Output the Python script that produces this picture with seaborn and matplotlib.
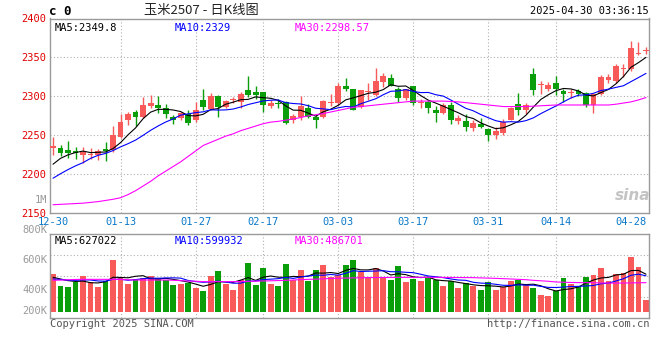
import numpy as np
import pandas as pd
import matplotlib
matplotlib.use('Agg')
import matplotlib.pyplot as plt
import seaborn as sns

sns.set_style('white')
plt.rcParams['font.family'] = ['DejaVu Sans Mono', 'Noto Sans CJK SC']
plt.rcParams['font.size'] = 7

# ---- data ----
tick_idx = [0, 9, 19, 28, 38, 48, 58, 67, 77]
tick_labels = ['12-30', '01-13', '01-27', '02-17', '03-03', '03-17', '03-31', '04-14', '04-28']

opens = [2234, 2234, 2231, 2230, 2225, 2225, 2225, 2233, 2231, 2248,
         2270, 2280, 2274, 2288, 2289, 2285, 2273, 2272, 2277, 2270,
         2295, 2284, 2300, 2287, 2295, 2293, 2308, 2306, 2306, 2288,
         2292, 2293, 2270, 2274, 2285, 2273, 2273, 2291, 2292, 2314,
         2309, 2287, 2306, 2302, 2319, 2323, 2310, 2298, 2313, 2291,
         2293, 2282, 2279, 2289, 2268, 2268, 2260, 2264, 2258, 2250,
         2253, 2270, 2290, 2282, 2329, 2315, 2309, 2317, 2307, 2304,
         2307, 2305, 2289, 2303, 2321, 2320, 2335, 2335, 2354, 2358]
closes = [2236, 2228, 2228, 2228, 2229, 2226.5, 2230, 2230, 2250, 2267,
          2277, 2274, 2289, 2292, 2285, 2277, 2270, 2279, 2266, 2283,
          2287, 2300, 2286, 2294, 2296, 2303, 2302, 2302, 2289, 2292,
          2290, 2266, 2275, 2288, 2274, 2270, 2294, 2292, 2313, 2309,
          2283, 2308, 2307, 2320, 2326, 2314, 2298, 2309, 2291, 2293,
          2285, 2279, 2289, 2270, 2272, 2261, 2266, 2261, 2250, 2255,
          2267, 2285, 2283, 2289, 2308, 2316, 2315, 2309, 2303, 2305,
          2303, 2289, 2303, 2325, 2325, 2339, 2336, 2362, 2355, 2358.5]
highs = [2248, 2237.5, 2243, 2235, 2235, 2234, 2233, 2241, 2262, 2278,
         2280, 2282, 2299, 2302, 2300, 2290, 2276, 2280, 2282, 2293,
         2310, 2304, 2302, 2295, 2299.5, 2306, 2326, 2313, 2306, 2296,
         2297, 2294, 2278, 2300, 2290, 2276, 2296, 2303, 2317, 2324,
         2310, 2308, 2317, 2336, 2330, 2329, 2312, 2310, 2314, 2297,
         2295, 2288, 2292, 2293, 2276, 2277, 2270, 2272, 2259, 2261,
         2271, 2287, 2304, 2291, 2336, 2320, 2319, 2326, 2309, 2310,
         2309, 2306, 2305, 2327, 2329, 2341, 2342, 2371, 2370, 2364]
lows = [2225, 2223, 2221, 2220, 2215, 2220, 2218, 2217, 2229, 2246,
        2263, 2262, 2272, 2285, 2279, 2272, 2265, 2270, 2263, 2267,
        2282, 2282, 2274, 2285, 2291, 2285, 2299.5, 2297, 2280, 2285,
        2285, 2264, 2266, 2270, 2272, 2260, 2272, 2288, 2289, 2307,
        2282, 2285, 2296, 2300, 2312, 2313, 2293, 2296, 2289, 2285,
        2279, 2267, 2278, 2265, 2264, 2255, 2255, 2259, 2243, 2245,
        2251, 2270, 2276, 2277, 2302, 2303, 2307, 2302, 2293, 2298,
        2300, 2287, 2279, 2302, 2317, 2317, 2325, 2332, 2353, 2354]
# closes before the first visible day (estimated, only feed the MA5/MA10 start)
prev_closes = [2170, 2175, 2180, 2188, 2172, 2190.5, 2205.5, 2213, 2220]
ma30 = [2161, 2161.5, 2162, 2162.5, 2163, 2164, 2165, 2166.5, 2168, 2170,
        2174, 2179, 2185, 2191, 2198, 2204, 2210, 2216, 2223, 2230,
        2237, 2241, 2245, 2249, 2252, 2256, 2259, 2262, 2265, 2267,
        2268, 2269.5, 2271, 2273, 2275, 2276.5, 2278, 2280, 2282, 2284,
        2286, 2287, 2288, 2289, 2290, 2291, 2292, 2293, 2294, 2294,
        2294, 2294, 2294, 2293.5, 2293, 2292, 2291, 2290, 2289, 2288,
        2287, 2287, 2287, 2287, 2287.5, 2288, 2288.5, 2289, 2289, 2289,
        2289, 2289, 2289, 2289, 2289, 2290, 2291.5, 2293, 2295.5, 2298.57]

# volume in thousands
volumes = [631, 432, 415, 492, 598, 492, 415, 515, 863, 581,
           465, 542, 564, 598, 564, 531, 448, 465, 476, 398,
           349, 598, 686, 465, 365, 531, 813, 448, 730, 465,
           432, 797, 531, 697, 520, 697, 780, 581, 614, 780,
           863, 659, 576, 730, 576, 531, 764, 498, 548, 515,
           576, 531, 432, 515, 398, 481, 432, 365, 498, 365,
           415, 515, 531, 448, 398, 282, 266, 349, 564, 465,
           432, 581, 614, 730, 515, 631, 647, 913, 747, 199]
prev_volumes = [505, 540, 515, 530, 510, 575, 548, 560, 566]
vol_ma30 = [526, 530, 535, 540, 542, 542, 542, 542, 542, 540,
            535, 531, 531, 531, 531, 531, 527, 520, 515, 510,
            504, 504, 504, 504, 504, 506, 509, 512, 515, 518,
            522, 526, 531, 537, 542, 545, 550, 557, 560, 563,
            566, 568, 570, 572, 573, 574, 575, 575, 575, 575,
            575, 575, 574, 573, 572, 571, 570, 566, 562, 558,
            553, 548, 542, 536, 526, 518, 510, 498, 494, 490,
            488, 487, 486, 482, 480, 480, 481, 483, 485, 486.7]

df = pd.DataFrame({'open': opens, 'close': closes, 'high': highs, 'low': lows,
                   'ma30': ma30, 'volume': volumes, 'vol_ma30': vol_ma30})
df['i'] = np.arange(len(df))
n_prev = len(prev_closes)
cser = pd.Series(prev_closes + closes)
vser = pd.Series(prev_volumes + volumes)
df['ma5'] = cser.rolling(5).mean().iloc[n_prev:].to_numpy()
df['ma10'] = cser.rolling(10).mean().iloc[n_prev:].to_numpy()
df['vol_ma5'] = vser.rolling(5).mean().iloc[n_prev:].to_numpy()
df['vol_ma10'] = vser.rolling(10).mean().iloc[n_prev:].to_numpy()

RED = '#f85a5a'
GREEN = '#0b9e0b'
BORDER = '#9a9a9a'
GRID = '#b0b0b0'
up = df['close'] >= df['open']
colors = np.where(up, RED, GREEN)

W, H = 660, 360
fig = plt.figure(figsize=(W / 100, H / 100), dpi=100)
ax = fig.add_axes([50 / W, 1 - 213.3 / H, 599 / W, 194.8 / H])
axv = fig.add_axes([50 / W, 1 - 318 / H, 599 / W, 84 / H])

# ---- price panel ----
ax.set_xlim(-0.4, 79.4)
ax.set_ylim(2150, 2400)
for yv in [2200, 2250, 2300, 2350]:
    ax.axhline(yv, color=GRID, lw=0.8, ls=(0, (1, 2)), zorder=0)
for xi in tick_idx[1:-1]:
    ax.axvline(xi, color=GRID, lw=0.8, ls=(0, (1, 2)), zorder=0)

ax.vlines(df['i'], df['low'], df['high'], colors=colors, lw=1, zorder=2)
body = np.maximum((df['close'] - df['open']).abs(), 1.3)
ax.bar(df['i'], body, bottom=np.minimum(df['open'], df['close']), width=0.78,
       color=colors, linewidth=0, zorder=3)

sns.lineplot(data=df, x='i', y='ma5', color='black', lw=0.8, ax=ax, zorder=4)
sns.lineplot(data=df, x='i', y='ma10', color='#0000ff', lw=0.8, ax=ax, zorder=4)
sns.lineplot(data=df, x='i', y='ma30', color='#ff00ff', lw=0.8, ax=ax, zorder=4)

ax.set_yticks([2150, 2200, 2250, 2300, 2350, 2400])
ax.set_yticklabels(['2150', '2200', '2250', '2300', '2350', '2400'], color='#e00000', fontsize=7.5)
ax.set_xticks(tick_idx)
ax.set_xticklabels(tick_labels, color='#0a78c8', fontsize=7.5)
ax.tick_params(axis='both', length=0, pad=3)
ax.set_xlabel('')
ax.set_ylabel('')
for s in ax.spines.values():
    s.set_color(BORDER)
    s.set_linewidth(1)

ax.text(0.008, 0.975, 'MA5:2349.8', color='black', transform=ax.transAxes, va='top', fontsize=7.5)
ax.text(0.208, 0.975, 'MA10:2329', color='#0000ff', transform=ax.transAxes, va='top', fontsize=7.5)
ax.text(0.408, 0.975, 'MA30:2298.57', color='#ff00ff', transform=ax.transAxes, va='top', fontsize=7.5)
ax.text(0.972, 0.09, 'sina', color='#c4c4c4', transform=ax.transAxes, ha='center', va='center',
        fontsize=11, fontweight='bold', style='italic', family='DejaVu Sans')

# ---- volume panel ----
vlo, vhi = -100, 1295
axv.set_xlim(-0.4, 79.4)
axv.set_ylim(vlo, vhi)
for f in [0.25, 0.5, 0.75]:
    axv.axhline(vlo + f * (vhi - vlo), color=GRID, lw=0.8, ls=(0, (1, 2)), zorder=0)
for xi in tick_idx[1:-1]:
    axv.axvline(xi, color=GRID, lw=0.8, ls=(0, (1, 2)), zorder=0)
axv.bar(df['i'], df['volume'], width=0.78, color=colors, linewidth=0, zorder=2)
sns.lineplot(data=df, x='i', y='vol_ma5', color='black', lw=0.8, ax=axv, zorder=4)
sns.lineplot(data=df, x='i', y='vol_ma10', color='#0000ff', lw=0.8, ax=axv, zorder=4)
sns.lineplot(data=df, x='i', y='vol_ma30', color='#ff00ff', lw=0.8, ax=axv, zorder=4)
axv.set_xticks([])
axv.set_yticks([])
axv.set_xlabel('')
axv.set_ylabel('')
for s in axv.spines.values():
    s.set_color(BORDER)
    s.set_linewidth(1)

axv.text(0.008, 0.975, 'MA5:627022', color='black', transform=axv.transAxes, va='top', fontsize=7.5)
axv.text(0.208, 0.975, 'MA10:599932', color='#0000ff', transform=axv.transAxes, va='top', fontsize=7.5)
axv.text(0.408, 0.975, 'MA30:486701', color='#ff00ff', transform=axv.transAxes, va='top', fontsize=7.5)

# volume scale labels as drawn by the source (grey, left side)
for lab, py in [('1M', 200), ('800K', 230), ('600K', 260), ('400K', 290), ('200K', 311)]:
    fig.text(47 / W, 1 - py / H, lab, color='#9a9a9a', ha='right', va='center', fontsize=7.5)

# ---- header / footer ----
fig.text(49 / W, 1 - 11.5 / H, 'c 0', color='black', ha='left', va='center', fontsize=9, fontweight='bold')
fig.text(201 / W, 1 - 10.5 / H, '玉米2507 - 日K线图', color='#222222', ha='center', va='center',
         fontsize=9.5, family=['Noto Sans CJK SC', 'DejaVu Sans'])
fig.text(649 / W, 1 - 11.5 / H, '2025-04-30 03:36:15', color='black', ha='right', va='center', fontsize=7.5)
fig.text(50 / W, 1 - 324 / H, 'Copyright 2025 SINA.COM', color='#555555', ha='left', va='center', fontsize=7.5)
fig.text(649 / W, 1 - 324 / H, 'http://finance.sina.com.cn', color='#555555', ha='right', va='center', fontsize=7.5)

fig.savefig('out.png', dpi=100)
